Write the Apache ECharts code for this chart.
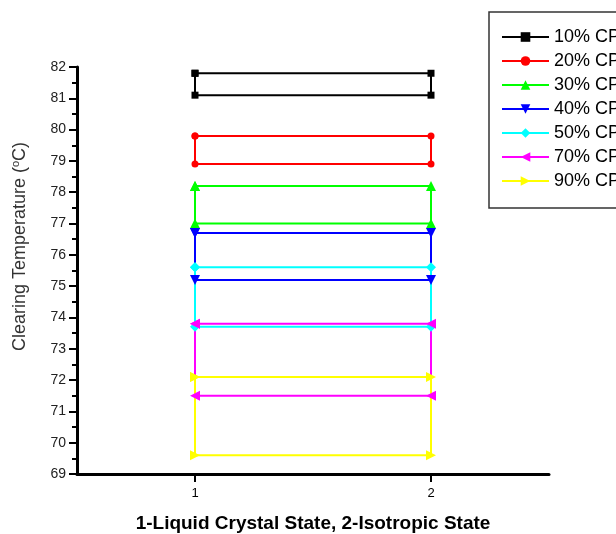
<!DOCTYPE html>
<html>
<head>
<meta charset="utf-8">
<script src="https://cdn.jsdelivr.net/npm/echarts@6/dist/echarts.min.js"></script>
<style>html,body{margin:0;padding:0;background:#fff}#c{width:616px;height:534px}</style>
</head>
<body>
<div id="c"></div>
<script>
const seriesNames = ['10% CP', '20% CP', '30% CP', '40% CP', '50% CP', '70% CP', '90% CP'];
const states = [1, 2];
const upperValues = [81.8, 79.8, 78.2, 76.7, 75.6, 73.8, 72.1];
const lowerValues = [81.1, 78.9, 77.0, 75.2, 73.7, 71.5, 69.6];
const yTicks = [69, 70, 71, 72, 73, 74, 75, 76, 77, 78, 79, 80, 81, 82];
const colors = ['#000000', '#ff0000', '#00ff00', '#0000ff', '#00ffff', '#ff00ff', '#ffff00'];
const symbols = ['rect', 'circle', 'triangle', 'triangle', 'diamond', 'triangle', 'triangle'];
const rotations = [0, 0, 0, 180, 0, 90, -90];
const symbolSizes = [7, 7, 10, 10, 10, 10, 10];

const font = 'Arial, "Liberation Sans", sans-serif';

const series = seriesNames.map((name, i) => ({
  name: name,
  type: 'line',
  data: [
    [states[0], upperValues[i]],
    [states[1], upperValues[i]],
    [states[1], lowerValues[i]],
    [states[0], lowerValues[i]],
    [states[0], upperValues[i]]
  ],
  symbol: symbols[i],
  symbolRotate: rotations[i],
  symbolSize: symbolSizes[i],
  showAllSymbol: true,
  itemStyle: { color: colors[i] },
  lineStyle: { color: colors[i], width: 2 },
  emphasis: { disabled: true },
  animation: false
}));

const chart = echarts.init(document.getElementById('c'), null, { renderer: 'canvas' });
chart.setOption({
  backgroundColor: '#ffffff',
  animation: false,
  grid: { left: 77, right: 67, top: 67, bottom: 60, containLabel: false, outerBoundsMode: 'none' },
  legend: {
    data: seriesNames,
    orient: 'vertical',
    left: 489,
    top: 12,
    itemWidth: 47,
    itemHeight: 12,
    itemGap: 6,
    padding: [16, 20, 18, 12],
    borderColor: '#333',
    borderWidth: 1.5,
    backgroundColor: '#fff',
    textStyle: { fontFamily: font, fontSize: 18, color: '#000' },
    selectedMode: false
  },
  xAxis: {
    type: 'value',
    min: 0.5,
    max: 2.5,
    name: '1-Liquid Crystal State, 2-Isotropic State',
    nameLocation: 'middle',
    nameGap: 40,
    nameTextStyle: { fontFamily: font, fontSize: 19, fontWeight: 'bold', color: '#000' },
    axisLine: { show: true, onZero: false, lineStyle: { color: '#000', width: 3 } },
    axisTick: { show: true, length: 8, customValues: states, lineStyle: { color: '#000', width: 2 } },
    axisLabel: { show: true, customValues: states, fontFamily: font, fontSize: 13, color: '#000', margin: 13 },
    splitLine: { show: false }
  },
  yAxis: {
    type: 'value',
    min: yTicks[0],
    max: yTicks[yTicks.length - 1],
    interval: 1,
    name: '{a|Clearing Temperature (}{s|o}{a|C)}',
    nameLocation: 'middle',
    nameGap: 47,
    nameTextStyle: {
      padding: [0, 0, 0, 48],
      rich: {
        a: { fontFamily: font, fontSize: 18, color: '#333' },
        s: { fontFamily: font, fontSize: 11, color: '#333', verticalAlign: 'top', padding: [0, 0, 9, 0] }
      }
    },
    axisLine: { show: true, lineStyle: { color: '#000', width: 3 } },
    axisTick: { show: true, length: 8, lineStyle: { color: '#000', width: 2 } },
    minorTick: { show: true, splitNumber: 2, length: 5, lineStyle: { color: '#000', width: 2 } },
    axisLabel: { fontFamily: font, fontSize: 14, color: '#222', margin: 11 },
    splitLine: { show: false }
  },
  series: series
});
</script>
</body>
</html>
